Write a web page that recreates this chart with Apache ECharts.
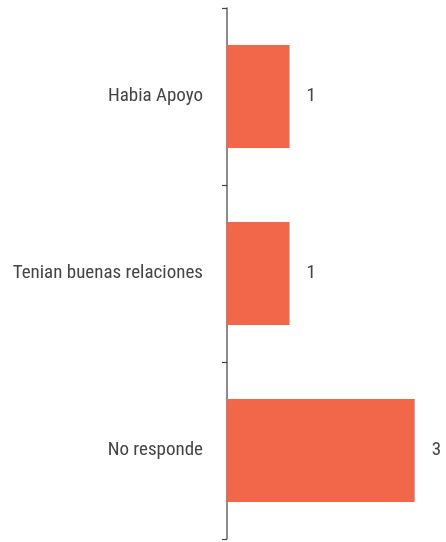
<!DOCTYPE html>
<html>
<head>
<meta charset="utf-8">
<script src="https://cdn.jsdelivr.net/npm/echarts@6/dist/echarts.min.js"></script>
<style>
html,body{margin:0;padding:0;background:#fff;}
#c{width:446px;height:542px;}
</style>
</head>
<body>
<div id="c"></div>
<script>
var categories = ["Habia Apoyo", "Tenian buenas relaciones", "No responde"];
var values = [1, 1, 3];

var FONT = "'Liberation Sans Narrow', 'Roboto Condensed', 'Arial Narrow', sans-serif";
var chart = echarts.init(document.getElementById('c'), null, {renderer: 'canvas'});
chart.setOption({
  animation: false,
  grid: {left: 227, top: 8, width: 219, height: 531, containLabel: false},
  xAxis: {
    type: 'value', min: 0, max: 3.5, show: false
  },
  yAxis: {
    type: 'category',
    data: categories,
    inverse: true,
    axisLine: {show: true, lineStyle: {color: '#666', width: 1.5}},
    axisTick: {show: true, length: 5, lineStyle: {color: '#444', width: 1.2}},
    axisLabel: {margin: 24, color: '#444', fontSize: 19, fontFamily: FONT, padding: [6, 0, 0, 0]},
    splitLine: {show: false}
  },
  series: [{
    type: 'bar',
    data: values,
    barWidth: 103,
    itemStyle: {color: '#F2674A'},
    label: {show: true, position: 'right', distance: 17, color: '#444', fontSize: 19, fontFamily: FONT}
  }]
});
</script>
</body>
</html>
